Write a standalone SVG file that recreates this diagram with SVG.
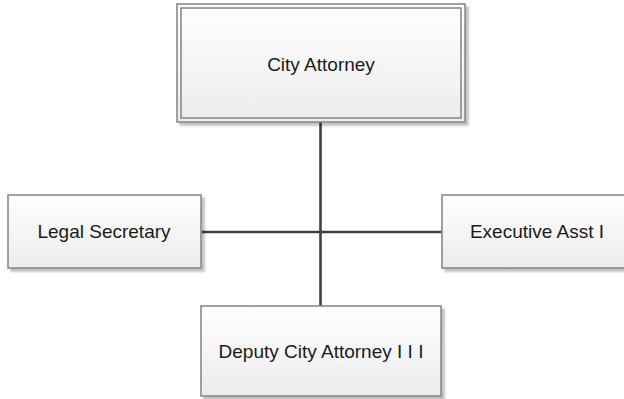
<svg xmlns="http://www.w3.org/2000/svg" width="624" height="399" viewBox="0 0 624 399">
<defs>
<linearGradient id="g" x1="0" y1="0" x2="0" y2="1">
<stop offset="0" stop-color="#ffffff"/>
<stop offset="1" stop-color="#ececec"/>
</linearGradient>
<filter id="sh" x="-10%" y="-10%" width="130%" height="130%">
<feGaussianBlur in="SourceAlpha" stdDeviation="1.2"/>
<feOffset dx="2.5" dy="2.5" result="b"/>
<feComponentTransfer><feFuncA type="linear" slope="0.25"/></feComponentTransfer>
<feMerge><feMergeNode/><feMergeNode in="SourceGraphic"/></feMerge>
</filter>
</defs>
<style>
.box{fill:url(#g);stroke:#8a8a8a;stroke-width:1.6}
.inner{fill:none;stroke:#8a8a8a;stroke-width:1.6}
.lbl{font-family:"Liberation Sans",Arial,sans-serif;font-size:19px;fill:#1a1a1a;text-anchor:middle}
.conn{stroke:#404040;stroke-width:2.6;fill:none}
</style>
<rect width="624" height="399" fill="#ffffff"/>
<g id="connectors">
<line class="conn" x1="320.5" y1="122" x2="320.5" y2="306"/>
<line class="conn" x1="201" y1="232" x2="442" y2="232"/>
</g>
<g id="city-attorney">
<rect class="box" x="177" y="4" width="288" height="118" filter="url(#sh)"/>
<rect class="inner" x="181" y="8" width="280" height="110"/>
<text class="lbl" x="321" y="71">City Attorney</text>
</g>
<g id="legal-secretary">
<rect class="box" x="8" y="195" width="193" height="73" filter="url(#sh)"/>
<text class="lbl" x="104" y="238">Legal Secretary</text>
</g>
<g id="executive-asst">
<rect class="box" x="442" y="195" width="190" height="73" filter="url(#sh)"/>
<text class="lbl" x="537" y="238">Executive Asst I</text>
</g>
<g id="deputy-city-attorney">
<rect class="box" x="201" y="306" width="240" height="90" filter="url(#sh)"/>
<text class="lbl" x="321" y="358">Deputy City Attorney I I I</text>
</g>
</svg>
